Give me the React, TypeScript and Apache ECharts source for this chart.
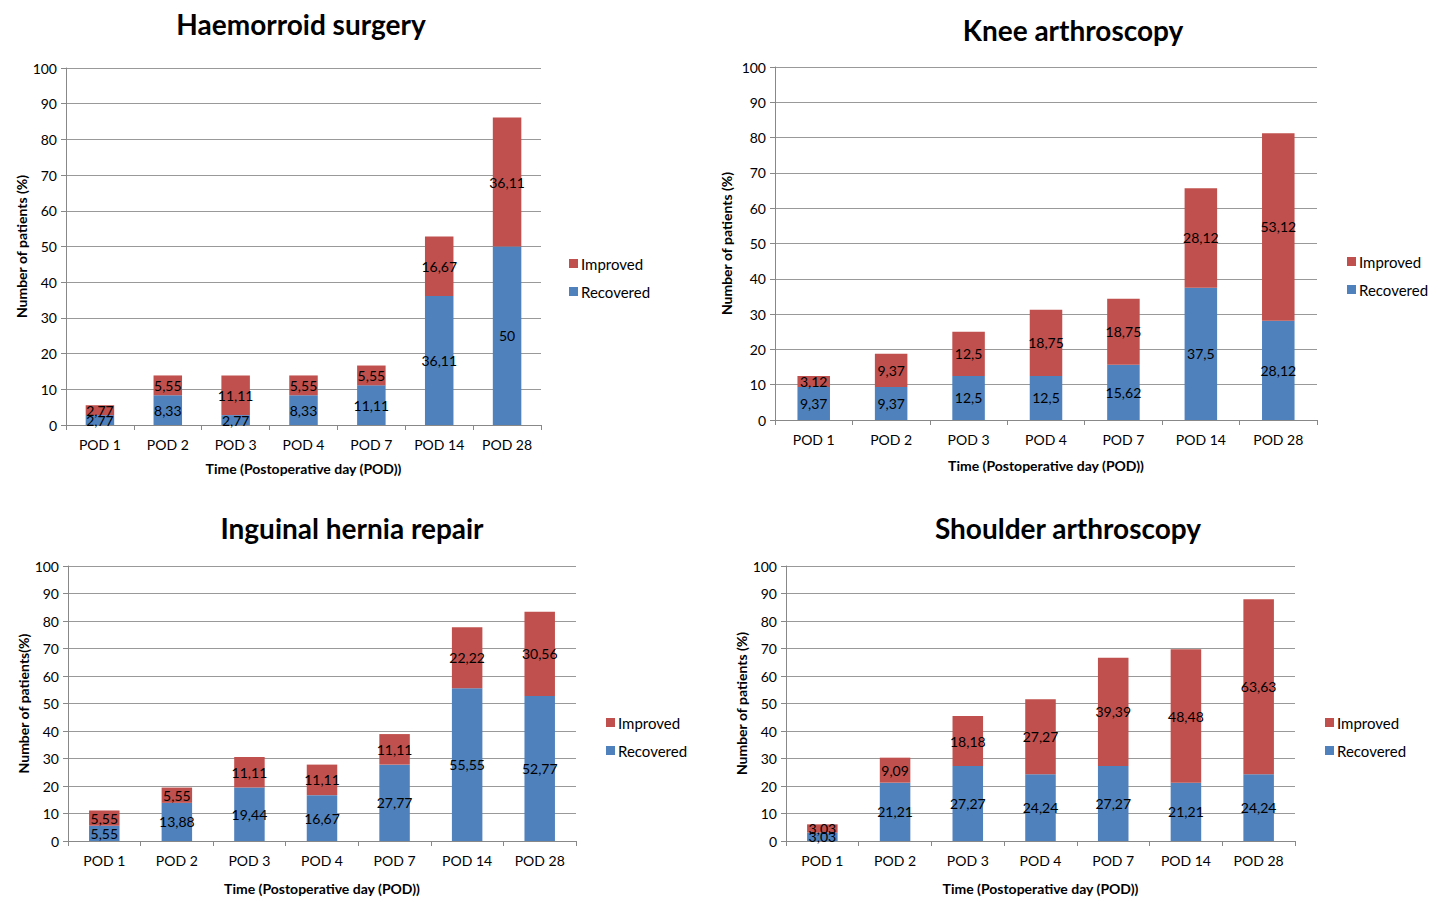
import React, { useEffect, useRef } from "react";
import * as echarts from "echarts";

const categories = ["POD 1", "POD 2", "POD 3", "POD 4", "POD 7", "POD 14", "POD 28"];
const yTicks = [0, 10, 20, 30, 40, 50, 60, 70, 80, 90, 100];

const haemRecovered = [2.77, 8.33, 2.77, 8.33, 11.11, 36.11, 50];
const haemImproved = [2.77, 5.55, 11.11, 5.55, 5.55, 16.67, 36.11];

const kneeRecovered = [9.37, 9.37, 12.5, 12.5, 15.62, 37.5, 28.12];
const kneeImproved = [3.12, 9.37, 12.5, 18.75, 18.75, 28.12, 53.12];

const herniaRecovered = [5.55, 13.88, 19.44, 16.67, 27.77, 55.55, 52.77];
const herniaImproved = [5.55, 5.55, 11.11, 11.11, 11.11, 22.22, 30.56];

const shoulderRecovered = [3.03, 21.21, 27.27, 24.24, 27.27, 21.21, 24.24];
const shoulderImproved = [3.03, 9.09, 18.18, 27.27, 39.39, 48.48, 63.63];

const titles = ["Haemorroid surgery", "Knee arthroscopy", "Inguinal hernia repair", "Shoulder arthroscopy"];
const yNames = ["Number of patients (%)", "Number of patients (%)", "Number of patients(%)", "Number of patients (%)"];
const xName = "Time (Postoperative day (POD))";

const BLUE = "#4F81BD";
const RED = "#C0504D";
const FONT = "Lato, 'Open Sans', sans-serif";

const panels = [
  { rec: haemRecovered, imp: haemImproved, grid: { left: 66, top: 68, width: 475, height: 357 }, titleX: 296, titleY: 5, yGap: 38, xGap: 36, legend: { left: 564, top: 251 } },
  { rec: kneeRecovered, imp: kneeImproved, grid: { left: 775, top: 67, width: 542, height: 353 }, titleX: 1068, titleY: 11, yGap: 42, xGap: 38, legend: { left: 1342, top: 249 } },
  { rec: herniaRecovered, imp: herniaImproved, grid: { left: 68, top: 566, width: 508, height: 275 }, titleX: 347, titleY: 509, yGap: 36, xGap: 40, legend: { left: 601, top: 710 } },
  { rec: shoulderRecovered, imp: shoulderImproved, grid: { left: 786, top: 566, width: 509, height: 275 }, titleX: 1063, titleY: 509, yGap: 38, xGap: 40, legend: { left: 1320, top: 710 } },
];

const fmt = (p: any) => String(p.value).replace(".", ",");

export default function App() {
  const ref = useRef<HTMLDivElement>(null);
  useEffect(() => {
    if (!ref.current) return;
    const chart = echarts.init(ref.current, undefined, { renderer: "svg" });
    const option: any = {
      animation: false,
      backgroundColor: "#ffffff",
      textStyle: { fontFamily: FONT },
      title: panels.map((p, i) => ({
        text: titles[i],
        left: p.titleX,
        top: p.titleY,
        textAlign: "center",
        textStyle: { fontFamily: FONT, fontSize: 28, fontWeight: "bold", color: "#000" },
      })),
      legend: panels.map((p) => ({
        data: ["Improved", "Recovered"],
        orient: "vertical",
        left: p.legend.left,
        top: p.legend.top,
        itemWidth: 9,
        itemHeight: 9,
        itemGap: 13,
        icon: "rect",
        selectedMode: false,
        textStyle: { fontFamily: FONT, fontSize: 15, color: "#000", padding: [0, 0, 0, -2] },
      })),
      grid: panels.map((p) => ({ ...p.grid, containLabel: false })),
      xAxis: panels.map((p, i) => ({
        type: "category",
        gridIndex: i,
        data: categories,
        name: xName,
        nameLocation: "middle",
        nameGap: p.xGap,
        nameTextStyle: { fontFamily: FONT, fontSize: 14, fontWeight: "bold", color: "#000" },
        axisLine: { lineStyle: { color: "#888", width: 1 } },
        axisTick: { show: true, length: 5, lineStyle: { color: "#888" } },
        axisLabel: { fontFamily: FONT, fontSize: 14, color: "#000", margin: 12 },
      })),
      yAxis: panels.map((p, i) => ({
        type: "value",
        gridIndex: i,
        min: 0,
        max: 100,
        interval: 10,
        name: yNames[i],
        nameLocation: "middle",
        nameGap: p.yGap,
        nameTextStyle: { fontFamily: FONT, fontSize: 14, fontWeight: "bold", color: "#000" },
        axisLine: { show: true, lineStyle: { color: "#888", width: 1 } },
        axisTick: { show: true, length: 5, lineStyle: { color: "#888" } },
        splitLine: { lineStyle: { color: "#999", width: 1 } },
        axisLabel: { fontFamily: FONT, fontSize: 14, color: "#000", margin: 9, customValues: yTicks },
      })),
      series: panels.flatMap((p, i) => [
        {
          name: "Recovered",
          type: "bar",
          stack: "s" + i,
          xAxisIndex: i,
          yAxisIndex: i,
          data: p.rec,
          barWidth: "42%",
          itemStyle: { color: BLUE },
          label: { show: true, position: "inside", formatter: fmt, fontFamily: FONT, fontSize: 14, color: "#000" },
        },
        {
          name: "Improved",
          type: "bar",
          stack: "s" + i,
          xAxisIndex: i,
          yAxisIndex: i,
          data: p.imp,
          barWidth: "42%",
          itemStyle: { color: RED },
          label: { show: true, position: "inside", formatter: fmt, fontFamily: FONT, fontSize: 14, color: "#000" },
        },
      ]),
    };
    chart.setOption(option);
    return () => chart.dispose();
  }, []);
  return (
    <div
      ref={ref}
      style={{ position: "fixed", left: 0, top: 0, width: 1444, height: 899, background: "#fff" }}
    />
  );
}
